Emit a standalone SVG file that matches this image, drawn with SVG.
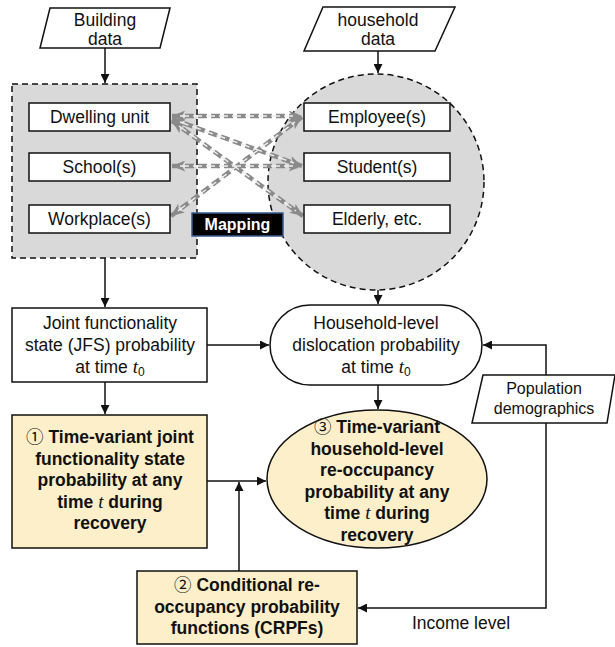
<svg xmlns="http://www.w3.org/2000/svg" width="615" height="647" viewBox="0 0 615 647">
<defs>
<marker id="ah" viewBox="0 0 10 10" refX="10" refY="5" markerWidth="9" markerHeight="9" markerUnits="userSpaceOnUse" orient="auto"><path d="M0,0 L10,5 L0,10 z" fill="#111"/></marker>
<marker id="gh" viewBox="0 0 12 10" refX="12" refY="5" markerWidth="14" markerHeight="11" markerUnits="userSpaceOnUse" orient="auto-start-reverse"><path d="M0,0 L12,5 L0,10 L3,5 z" fill="#8a8a8a"/></marker>
</defs>
<style>
text{font-family:"Liberation Sans","DejaVu Sans",Arial,sans-serif;fill:#111;text-anchor:middle}
.n{font-size:17.5px}
.s{font-size:16px}
.b{font-size:17.5px;font-weight:bold}
.box{fill:#fff;stroke:#111;stroke-width:1.5}
.y{fill:#fdefc9;stroke:#111;stroke-width:1.5}
.c{fill:none;stroke:#111;stroke-width:1.5}
.go{fill:none;stroke:#8a8a8a;stroke-width:4.5;stroke-dasharray:9 4}
.gi{fill:none;stroke:#eeeeee;stroke-width:1.4;stroke-dasharray:9 4}
.t{font-family:"Liberation Serif",serif;font-style:italic}
.d{font-family:"Noto Sans CJK JP","DejaVu Sans",sans-serif;font-weight:normal}
</style>
<rect width="615" height="647" fill="#fff"/>

<g id="building-data">
<polygon points="50,8 170,8 160,48 40,48" class="box"/>
<text class="n" x="105" y="25.5">Building</text>
<text class="n" x="105" y="45">data</text>
</g>

<g id="household-data">
<polygon points="323,7 455,7 435,51 304,51" class="box"/>
<text class="n" x="378" y="25.5">household</text>
<text class="n" x="378" y="45">data</text>
</g>

<g id="building-group">
<rect x="12" y="84" width="185" height="174" fill="#d9d9d9" stroke="#111" stroke-width="1.5" stroke-dasharray="6 4"/>
</g>

<g id="household-group">
<circle cx="376" cy="182" r="108" fill="#d9d9d9" stroke="#111" stroke-width="1.5" stroke-dasharray="6 4"/>
</g>

<g id="mapping-connectors">
<path class="go" d="M172,116 L302,116" marker-start="url(#gh)" marker-end="url(#gh)"/>
<path class="go" d="M172,119 L302,166" marker-start="url(#gh)" marker-end="url(#gh)"/>
<path class="go" d="M172,121 L303,216" marker-start="url(#gh)" marker-end="url(#gh)"/>
<path class="go" d="M172,166 L302,166" marker-start="url(#gh)" marker-end="url(#gh)"/>
<path class="go" d="M171,216 L302,117" marker-start="url(#gh)" marker-end="url(#gh)"/>
<path class="gi" d="M180,116 L294,116"/>
<path class="gi" d="M180,122 L294,163"/>
<path class="gi" d="M179,126 L296,211"/>
<path class="gi" d="M180,166 L294,166"/>
<path class="gi" d="M178,211 L295,122"/>
</g>

<g id="dwelling-unit"><rect x="29" y="103" width="141" height="28" class="box"/><text class="n" x="99.5" y="123">Dwelling unit</text></g>
<g id="schools"><rect x="29" y="153" width="141" height="28" class="box"/><text class="n" x="99.5" y="173">School(s)</text></g>
<g id="workplaces"><rect x="29" y="205" width="141" height="28" class="box"/><text class="n" x="99.5" y="225">Workplace(s)</text></g>
<g id="employees"><rect x="304" y="103" width="146" height="28" class="box"/><text class="n" x="377" y="123">Employee(s)</text></g>
<g id="students"><rect x="304" y="153" width="146" height="28" class="box"/><text class="n" x="377" y="173">Student(s)</text></g>
<g id="elderly"><rect x="304" y="205" width="146" height="28" class="box"/><text class="n" x="377" y="225">Elderly, etc.</text></g>

<g id="mapping-label">
<rect x="192" y="213" width="91" height="23" fill="#000" stroke="#3a5a8c" stroke-width="1.5"/>
<text x="237.5" y="230" style="font-size:16px;font-weight:bold;fill:#fff">Mapping</text>
</g>

<g id="jfs">
<rect x="12" y="308" width="195" height="74" class="box"/>
<text class="n" x="110" y="329">Joint functionality</text>
<text class="n" x="110" y="351">state (JFS) probability</text>
<text class="n" x="110" y="373">at time <tspan class="t" font-size="19">t</tspan><tspan font-size="12" dy="3">0</tspan></text>
</g>

<g id="dislocation">
<rect x="270" y="305" width="212" height="80" rx="40" ry="40" class="box"/>
<text class="n" x="376" y="329">Household-level</text>
<text class="n" x="376" y="351">dislocation probability</text>
<text class="n" x="376" y="373">at time <tspan class="t" font-size="19">t</tspan><tspan font-size="12" dy="3">0</tspan></text>
</g>

<g id="population">
<polygon points="483,375 615,375 607,423 472,423" class="box"/>
<text class="s" x="544" y="394">Population</text>
<text class="s" x="544" y="413.5">demographics</text>
</g>

<g id="time-variant-jfs">
<rect x="12" y="415" width="195" height="133" class="y"/>
<text class="b" x="110" y="443"><tspan class="d">①</tspan> Time-variant joint</text>
<text class="b" x="110" y="464.5">functionality state</text>
<text class="b" x="110" y="486">probability at any</text>
<text class="b" x="110" y="507.5">time <tspan class="t" font-weight="normal" font-size="19">t</tspan> during</text>
<text class="b" x="110" y="529">recovery</text>
</g>

<g id="time-variant-reoccupancy">
<ellipse cx="377" cy="479" rx="110" ry="69" class="y"/>
<text class="b" x="377" y="433"><tspan class="d">③</tspan> Time-variant</text>
<text class="b" x="377" y="454.5">household-level</text>
<text class="b" x="377" y="476">re-occupancy</text>
<text class="b" x="377" y="497.5">probability at any</text>
<text class="b" x="377" y="519">time <tspan class="t" font-weight="normal" font-size="19">t</tspan> during</text>
<text class="b" x="377" y="540.5">recovery</text>
</g>

<g id="crpf">
<rect x="137" y="571" width="220" height="73" class="y"/>
<text class="b" x="247" y="591"><tspan class="d">②</tspan> Conditional re-</text>
<text class="b" x="247" y="612.5">occupancy probability</text>
<text class="b" x="247" y="634">functions (CRPFs)</text>
</g>

<g id="connectors">
<path class="c" d="M105,48 V83" marker-end="url(#ah)"/>
<path class="c" d="M378,51 V73" marker-end="url(#ah)"/>
<path class="c" d="M105,258 V307" marker-end="url(#ah)"/>
<path class="c" d="M378,290 V304" marker-end="url(#ah)"/>
<path class="c" d="M207,345 H269" marker-end="url(#ah)"/>
<path class="c" d="M105,382 V414" marker-end="url(#ah)"/>
<path class="c" d="M378,385 V409" marker-end="url(#ah)"/>
<path class="c" d="M207,481 H266" marker-end="url(#ah)"/>
<path class="c" d="M239,571 V482" marker-end="url(#ah)"/>
<path class="c" d="M546,375 V345 H483" marker-end="url(#ah)"/>
<path class="c" d="M546,423 V608 H358" marker-end="url(#ah)"/>
<text class="n" x="461" y="629">Income level</text>
</g>
</svg>
